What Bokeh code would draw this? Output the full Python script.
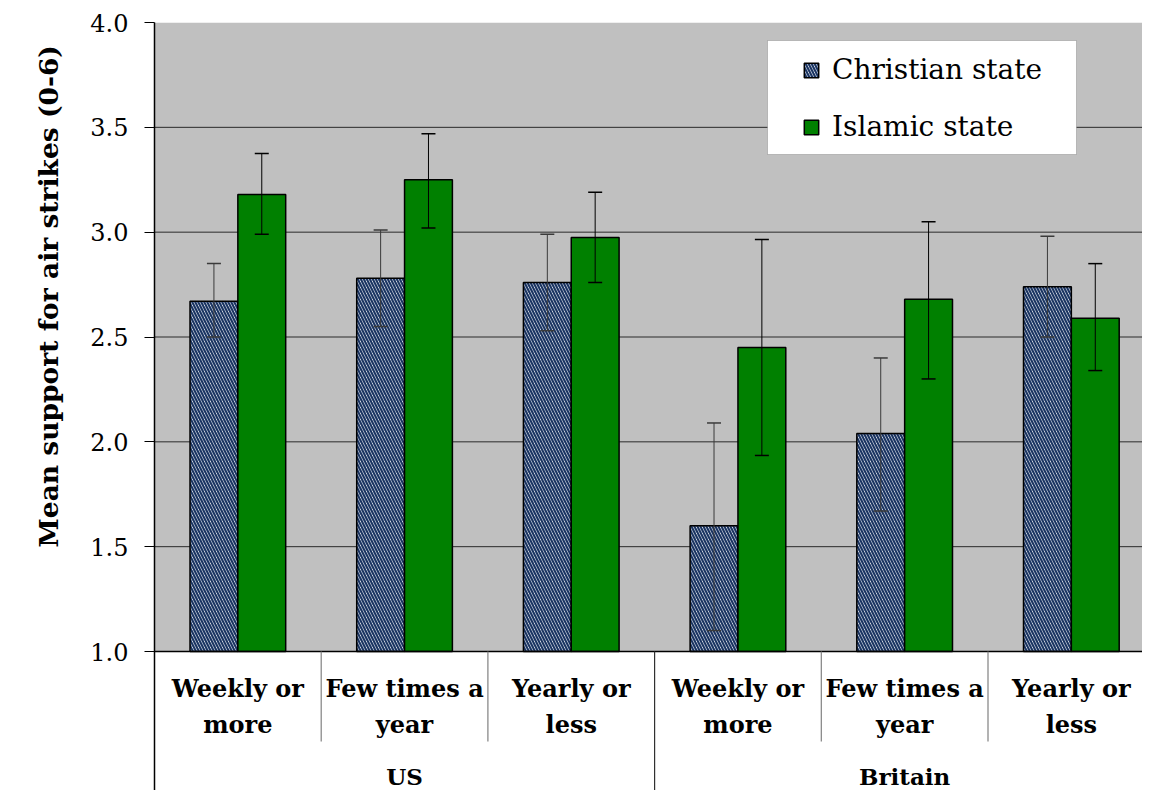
import numpy as np
from bokeh.plotting import figure
from bokeh.models import (ColumnDataSource, Range1d, FixedTicker, Whisker, TeeHead,
                          Legend, LegendItem, Title, PrintfTickFormatter, BoxAnnotation)
from bokeh.core.properties import value
from bokeh.embed import file_html
from bokeh.resources import INLINE

# ---------------- data ----------------
groups = ["US", "Britain"]
frequency = ["Weekly or\nmore", "Few times a\nyear", "Yearly or\nless"]
christian_mean = [2.67, 2.78, 2.76, 1.60, 2.04, 2.74]
christian_upper = [2.85, 3.01, 2.99, 2.09, 2.40, 2.98]
christian_lower = [2.50, 2.55, 2.53, 1.10, 1.67, 2.50]
islamic_mean = [3.18, 3.25, 2.975, 2.45, 2.68, 2.59]
islamic_upper = [3.375, 3.47, 3.19, 2.965, 3.05, 2.85]
islamic_lower = [2.99, 3.02, 2.76, 1.935, 2.30, 2.34]
y_ticks = [1.0, 1.5, 2.0, 2.5, 3.0, 3.5, 4.0]
y_label = "Mean support for air strikes (0-6)"
series_names = ["Christian state", "Islamic state"]

# ---------------- layout ----------------
n_cat = len(groups) * len(frequency)
cat_px = 166.7
left_b, top_b = 154, 22
W, H = 1142, 790
frame_w = W - left_b
bw = 0.287
serif = "DejaVu Serif"
px_per_unit = 209.67
y_start = y_ticks[-1] - (H - top_b) / px_per_unit

centers = np.arange(n_cat) + 0.5
cat_labels = frequency * len(groups)
group_centers = [len(frequency) * (g + 0.5) for g in range(len(groups))]

p = figure(width=W, height=H, output_backend="svg", toolbar_location=None,
           x_range=Range1d(0, frame_w / cat_px), y_range=Range1d(y_start, y_ticks[-1]),
           x_axis_location=None, min_border_left=left_b, min_border_right=0,
           min_border_top=top_b, min_border_bottom=0)
p.background_fill_color = "white"
p.border_fill_color = "white"
p.outline_line_color = None
p.grid.visible = False

# plot-area background
p.quad(left=0, right=n_cat, bottom=y_ticks[0], top=y_ticks[-1],
       fill_color="#C0C0C0", line_color=None)
# gridlines
for yv in y_ticks[1:-1]:
    p.segment(x0=0, x1=n_cat, y0=yv, y1=yv, line_color="#2a2a2a", line_width=1)

# bars
src_c = ColumnDataSource(dict(x=centers - bw / 2, top=christian_mean,
                              u=christian_upper, l=christian_lower))
src_i = ColumnDataSource(dict(x=centers + bw / 2, top=islamic_mean,
                              u=islamic_upper, l=islamic_lower))
r_c = p.vbar(x="x", top="top", bottom=y_ticks[0], width=bw, source=src_c,
             fill_color="white", hatch_pattern="left_diagonal_line",
             hatch_color="#1B3563", hatch_scale=6, hatch_weight=2.2,
             line_color="black", line_width=1.5)
r_i = p.vbar(x="x", top="top", bottom=y_ticks[0], width=bw, source=src_i,
             fill_color="#008000", line_color="black", line_width=1.5)

# error bars
for src, col in ((src_c, "#3a3a3a"), (src_i, "black")):
    w = Whisker(base="x", upper="u", lower="l", source=src, line_color=col, line_width=1,
                level="annotation",
                upper_head=TeeHead(size=14, line_color=col, line_width=1.5),
                lower_head=TeeHead(size=14, line_color=col, line_width=1.5))
    p.add_layout(w)

# x axis line
p.segment(x0=0, x1=n_cat, y0=y_ticks[0], y1=y_ticks[0], line_color="black", line_width=1.5)

# category table separators
inner = [i for i in range(1, n_cat) if i % len(frequency) != 0]
outer = [i for i in range(1, n_cat + 1) if i % len(frequency) == 0]
p.segment(x0=inner, x1=inner, y0=[y_ticks[0]] * len(inner), y1=[0.571] * len(inner),
          line_color="#808080", line_width=1.2)
p.segment(x0=outer, x1=outer, y0=[y_ticks[0]] * len(outer), y1=[0.0] * len(outer),
          line_color="#303030", line_width=1.2)

# category labels
p.text(x=list(centers), y=[0.738] * n_cat, text=cat_labels,
       text_font=value(serif), text_font_style="bold", text_font_size="24px",
       text_align="center", text_baseline="middle", text_line_height=1.22,
       text_color="black")
p.text(x=group_centers, y=[0.405] * len(groups), text=groups,
       text_font=value(serif), text_font_style="bold", text_font_size="23px",
       text_align="center", text_baseline="middle", text_color="black")

# y axis
ax = p.yaxis[0]
ax.ticker = FixedTicker(ticks=y_ticks)
ax.formatter = PrintfTickFormatter(format="%.1f")
ax.major_label_text_font = serif
ax.major_label_text_font_size = "24px"
ax.major_label_text_color = "black"
ax.major_tick_out = 10
ax.major_tick_in = 0
ax.minor_tick_line_color = None
ax.axis_line_color = "black"
ax.axis_line_width = 1.5
ax.major_tick_line_color = "black"
ax.major_label_standoff = 16

# y-axis title (placed along the 1.0-4.0 part of the axis)
ytitle = Title(text=y_label, align="left", offset=243, standoff=43, vertical_align="top",
               text_font=serif, text_font_style="bold", text_font_size="26.5px",
               text_color="black")
p.add_layout(ytitle, "left")

# legend box
p.add_layout(BoxAnnotation(left=(768 - 155) / cat_px, right=(1077 - 155) / cat_px,
                           top=y_ticks[0] + (652 - 41) / px_per_unit,
                           bottom=y_ticks[0] + (652 - 155) / px_per_unit,
                           fill_color="white", fill_alpha=1,
                           line_color="#555555", line_width=1, level="annotation"))

legend = Legend(items=[LegendItem(label=series_names[0], renderers=[r_c]),
                       LegendItem(label=series_names[1], renderers=[r_i])],
                location=(648, 647), orientation="vertical")
legend.background_fill_alpha = 0
legend.border_line_color = None
legend.label_text_font = serif
legend.label_text_font_size = "28px"
legend.label_text_color = "black"
legend.glyph_width = 18
legend.glyph_height = 18
legend.label_standoff = 12
legend.padding = 0
legend.spacing = 24
legend.margin = 0
p.add_layout(legend)

open("out.html", "w").write(file_html(p, INLINE))
